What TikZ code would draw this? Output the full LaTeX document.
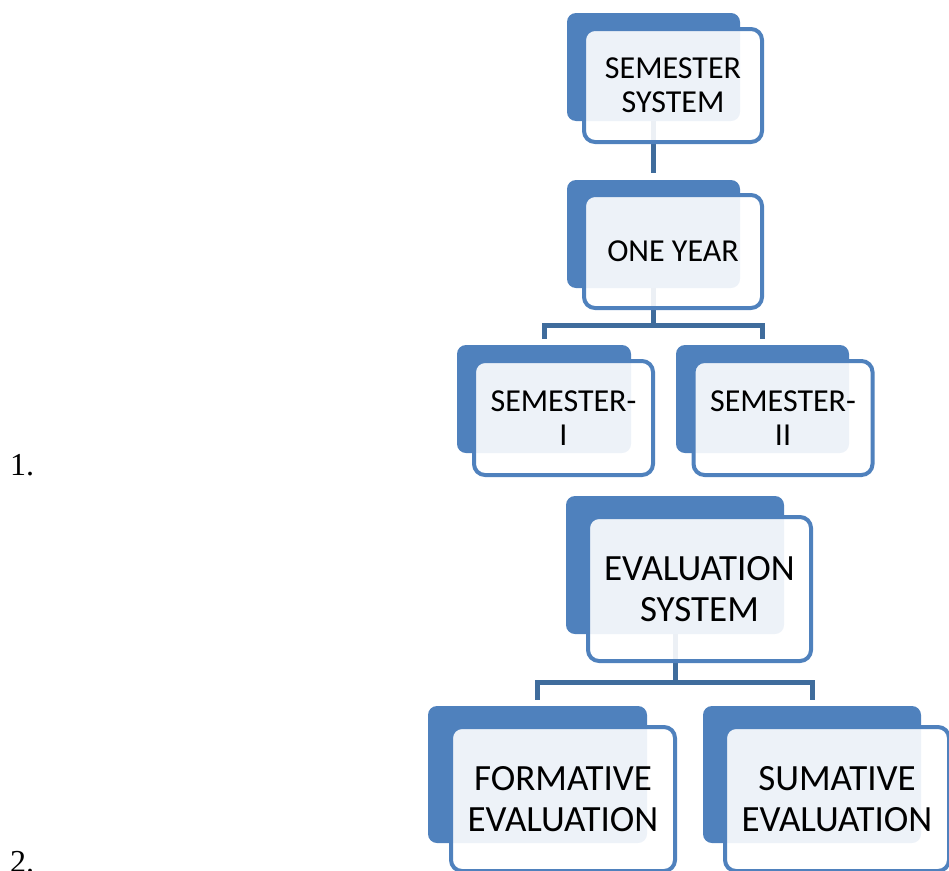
\documentclass[tikz,border=0pt]{standalone}
\usepackage{fontspec}
\setmainfont{Liberation Serif}
\newfontfamily\boxfont{Carlito}
\definecolor{backblue}{HTML}{4F81BD}
\definecolor{edgeblue}{HTML}{4F81BD}
\definecolor{connblue}{HTML}{3F6C9C}
\tikzset{
  backbox/.style={fill=backblue, draw=none, rounded corners=9pt, inner sep=0pt},
  frontbox/.style={draw=edgeblue, line width=4pt, fill=white, fill opacity=0.9, text opacity=1, rounded corners=11pt, inner sep=0pt, align=center, font=\boxfont\fontsize{32}{34}\selectfont},
  bigfront/.style={frontbox, font=\boxfont\fontsize{37}{41}\selectfont},
  conn/.style={draw=connblue, line width=5pt, shorten >=6pt},
  numlabel/.style={anchor=base west, inner sep=0pt, font=\fontsize{32}{36}\selectfont}
}
\begin{document}
\begin{tikzpicture}[x=1pt,y=-1pt]
\useasboundingbox (0,0) rectangle (949,870);
% back boxes
\node[backbox, minimum width=173pt, minimum height=108pt] (b1) at (653.5,67) {};
\node[backbox, minimum width=173pt, minimum height=108pt] (b2) at (653.5,234) {};
\node[backbox, minimum width=174pt, minimum height=108pt] (b3) at (544,399) {};
\node[backbox, minimum width=173pt, minimum height=108pt] (b4) at (762.5,399) {};
\node[backbox, minimum width=218pt, minimum height=138pt] (b5) at (675,565) {};
\node[backbox, minimum width=219pt, minimum height=137pt] (b6) at (537.5,774.5) {};
\node[backbox, minimum width=218pt, minimum height=137pt] (b7) at (812,774.5) {};
% junctions
\coordinate (j1) at (653.5,325);
\coordinate (j2) at (675,682);
% connectors
\draw[conn, shorten >=7pt] (b1.south) -- (b2.north);
\draw[conn] (b2.south) -- (j1) -| (b3.north);
\draw[conn] (b2.south) -- (j1) -| (b4.north);
\draw[conn] (b5.south) -- (j2) -| (b6.north);
\draw[conn] (b5.south) -- (j2) -| (b7.north);
% front boxes
\node[frontbox, minimum width=178pt, minimum height=113pt] (f1) at (673,85.5) {SEMESTER\\SYSTEM};
\node[frontbox, minimum width=178pt, minimum height=113pt] (f2) at (673,251.5) {ONE YEAR};
\node[frontbox, minimum width=179pt, minimum height=114pt] (f3) at (563.5,418) {SEMESTER-\\I};
\node[frontbox, minimum width=179pt, minimum height=114pt] (f4) at (783,418) {SEMESTER-\\II};
\node[bigfront, minimum width=223pt, minimum height=144pt] (f5) at (699.5,589) {EVALUATION\\SYSTEM};
\node[bigfront, minimum width=224pt, minimum height=144pt] (f6) at (563,799) {FORMATIVE\\EVALUATION};
\node[bigfront, minimum width=224pt, minimum height=144pt] (f7) at (837,799) {SUMATIVE\\EVALUATION};
% list numbers
\node[numlabel] (n1) at (10,475) {1.};
\node[numlabel] (n2) at (10,872) {2.};
\end{tikzpicture}
\end{document}
